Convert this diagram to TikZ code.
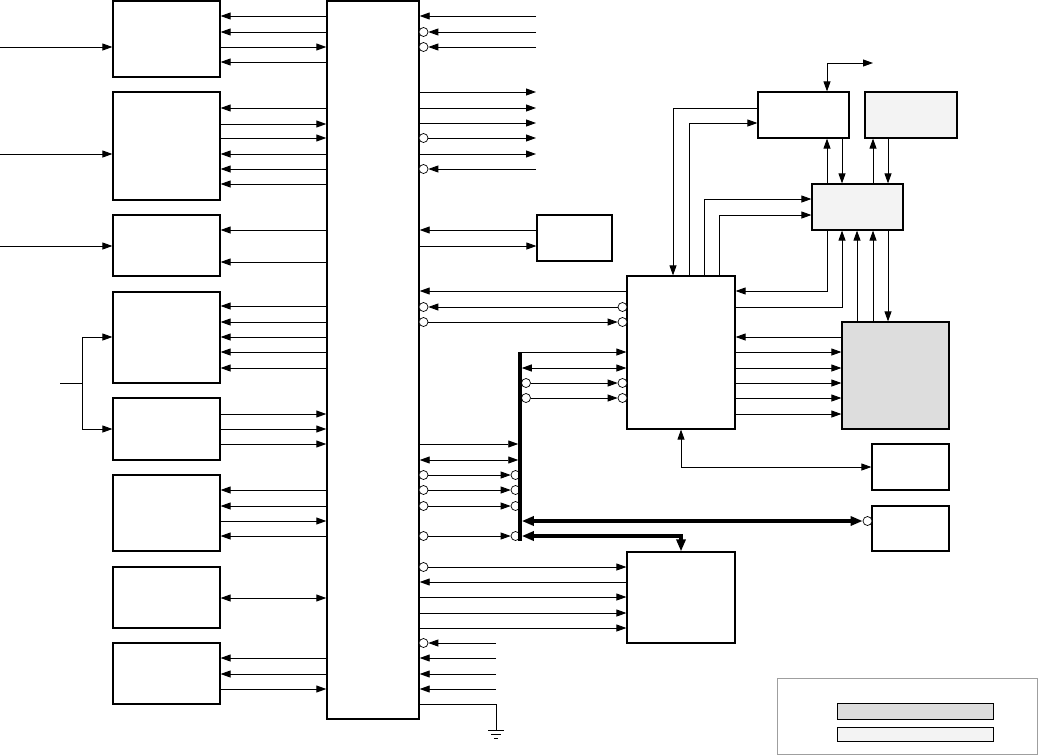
\documentclass[tikz,border=0pt]{standalone}
\usetikzlibrary{arrows.meta,fit}
\definecolor{gA}{HTML}{DDDDDD}
\definecolor{gB}{HTML}{F3F3F3}
\newcommand\invc[3]{\node[inv] (#1) at (#2,#3) {};}
\begin{document}
\begin{tikzpicture}[x=1pt,y=-1pt,
  box/.style={draw,line width=1.2pt,inner sep=0pt,fill=white},
  ln/.style={line width=0.9pt},
  arr/.style={ln,-{Triangle[length=10pt,width=7pt]}},
  barr/.style={ln,{Triangle[length=10pt,width=7pt]}-{Triangle[length=10pt,width=7pt]}},
  tbus/.style={line width=3.5pt},
  tbarr/.style={line width=3.5pt,{Triangle[length=12pt,width=9pt]}-{Triangle[length=12pt,width=9pt]}},
  inv/.style={circle,draw,line width=0.7pt,fill=white,inner sep=0pt,minimum size=9pt},
]
\useasboundingbox (0,0) rectangle (1038,755);
% boxes
\node[box,fit={(113,1) (220,77)}] (A) {};
\node[box,fit={(113,92) (220,200)}] (B) {};
\node[box,fit={(113,215) (220,276)}] (C) {};
\node[box,fit={(113,292) (220,383)}] (D) {};
\node[box,fit={(113,398) (220,460)}] (E) {};
\node[box,fit={(113,475) (220,551)}] (F) {};
\node[box,fit={(113,567) (220,628)}] (G) {};
\node[box,fit={(113,643) (220,704)}] (H) {};
\node[box,line width=1.4pt,fit={(327,1) (419,719)}] (bus) {};
\node[box,fit={(537,215) (612,261)}] (I) {};
\node[box,fit={(627,276) (735,429)}] (J) {};
\node[box,fit={(627,552) (735,643)}] (K) {};
\node[box,fit={(758,92) (849,138)}] (M) {};
\node[box,fill=gB,fit={(865,92) (957,138)}] (N) {};
\node[box,fill=gB,fit={(812,184) (903,230)}] (O) {};
\node[box,fill=gA,fit={(842,322) (949,429)}] (P) {};
\node[box,fit={(872,444) (949,490)}] (Q) {};
\node[box,fit={(872,506) (949,551)}] (L) {};
% legend
\node[draw=gray!75,line width=1pt,inner sep=0pt,fit={(777,678) (1037,754)}] (leg) {};
\node[draw,line width=0.8pt,fill=gA,inner sep=0pt,fit={(837,703) (993,719)}] (legA) {};
\node[draw,line width=0.8pt,fill=gB,inner sep=0pt,fit={(837,727) (993,741)}] (legB) {};
% helper coordinates
\coordinate (rcol) at (536,0);
\coordinate (gcol) at (496,0);
\coordinate (vbus) at (520,0);
\coordinate (vb1) at (520,352);
\coordinate (vb2) at (520,541);
\coordinate (inA) at (0,47);
\coordinate (inB) at (0,154);
\coordinate (inC) at (0,246);
\coordinate (inD) at (60,383);
\coordinate (fork) at (82,383);
\coordinate (topout) at (873,63);
\coordinate (gnd) at (496,730);
% circles
\foreach \y in {32,47,138,169,307,322,475,490,506,536,567,643} {\invc{b\y}{423.5}{\y}}
\foreach \y in {307,322,383,398} {\invc{j\y}{622.5}{\y}}
\foreach \y in {383,398} {\invc{v\y}{526}{\y}}
\foreach \y in {475,490,506,536} {\invc{w\y}{515.5}{\y}}
\invc{cL}{867.5}{521}
% inputs on left
\draw[arr] (inA) -- (A.west |- inA);
\draw[arr] (inB) -- (B.west |- inB);
\draw[arr] (inC) -- (C.west |- inC);
\draw[ln] (inD) -- (fork);
\draw[arr] (fork) |- (D.west |- 0,337);
\draw[arr] (fork) |- (E.west |- 0,429);
% left boxes <-> bus
\foreach \y in {16,32,62,108,154,169,184,230,262,306,322,337,352,368,490,506,536,658,674}
  {\draw[arr] (bus.west |- 0,\y) -- (A.east |- 0,\y);}
\foreach \y in {47,124,138,414,429,444,521,689}
  {\draw[arr] (A.east |- 0,\y) -- (bus.west |- 0,\y);}
\draw[barr] (G.east |- 0,598) -- (bus.west |- 0,598);
% right of bus, top
\draw[arr] (rcol |- 0,16) -- (bus.east |- 0,16);
\foreach \y in {32,47,169} {\draw[arr] (rcol |- 0,\y) -- (b\y);}
\foreach \y in {92,108,123,154} {\draw[arr] (bus.east |- 0,\y) -- (rcol |- 0,\y);}
\draw[arr] (b138) -- (rcol |- 0,138);
\draw[arr] (I.west |- 0,230) -- (bus.east |- 0,230);
\draw[arr] (bus.east |- 0,246) -- (I.west |- 0,246);
% bus <-> J
\draw[arr] (J.west |- 0,291) -- (bus.east |- 0,291);
\draw[arr] (j307) -- (b307);
\draw[arr] (b322) -- (j322);
% vertical thick bus
\draw[tbus] (vb1) -- (vb2);
\draw[arr] (vb1) -- (J.west |- vb1);
\draw[barr] ([xshift=1.75pt]vbus |- 0,368) -- (J.west |- 0,368);
\draw[arr] (v383) -- (j383);
\draw[arr] (v398) -- (j398);
\draw[arr] (bus.east |- 0,444) -- ([xshift=-1.75pt]vbus |- 0,444);
\draw[barr] (bus.east |- 0,460) -- ([xshift=-1.75pt]vbus |- 0,460);
\foreach \y in {475,490,506,536} {\draw[arr] (b\y) -- (w\y);}
\draw[tbarr] ([xshift=1.75pt]vbus |- 0,521) -- (cL);
\draw[tbarr] ([xshift=1.75pt]vbus |- 0,536) -| (K.north -| 681,0);
% bus <-> K
\draw[arr] (b567) -- (K.west |- b567);
\draw[arr] (K.west |- 0,582) -- (bus.east |- 0,582);
\foreach \y in {597,613,628} {\draw[arr] (bus.east |- 0,\y) -- (K.west |- 0,\y);}
% bottom inputs
\draw[arr] (gcol |- 0,643) -- (b643);
\foreach \y in {658,674,689} {\draw[arr] (gcol |- 0,\y) -- (bus.east |- 0,\y);}
\draw[ln] (bus.east |- 0,704) -| (gnd);
\draw[ln] (488,730) -- (504,730);
\draw[ln] (491,734) -- (501,734);
\draw[ln] (494,738) -- (498,738);
% top right
\draw[barr] (M.north -| 827,0) |- (topout);
\draw[arr] (M.west |- 0,108) -| (J.north -| 673,0);
\draw[arr] (J.north -| 689,0) |- (M.west |- 0,123);
\draw[arr] (J.north -| 704,0) |- (O.west |- 0,199);
\draw[arr] (J.north -| 719,0) |- (O.west |- 0,215);
\draw[arr] (O.north -| 827,0) -- (M.south -| 827,0);
\draw[arr] (M.south -| 842,0) -- (O.north -| 842,0);
\draw[arr] (O.north -| 873,0) -- (N.south -| 873,0);
\draw[arr] (N.south -| 888,0) -- (O.north -| 888,0);
\draw[arr] (O.south -| 827,0) |- (J.east |- 0,291);
\draw[arr] (J.east |- 0,307) -| (O.south -| 842,0);
\draw[arr] (P.north -| 857,0) -- (O.south -| 857,0);
\draw[arr] (P.north -| 873,0) -- (O.south -| 873,0);
\draw[arr] (O.south -| 888,0) -- (P.north -| 888,0);
\draw[arr] (P.west |- 0,337) -- (J.east |- 0,337);
\foreach \y in {352,368,383,398,414} {\draw[arr] (J.east |- 0,\y) -- (P.west |- 0,\y);}
\draw[barr] (J.south -| 681,0) |- (Q.west |- 0,467);
\end{tikzpicture}
\end{document}
